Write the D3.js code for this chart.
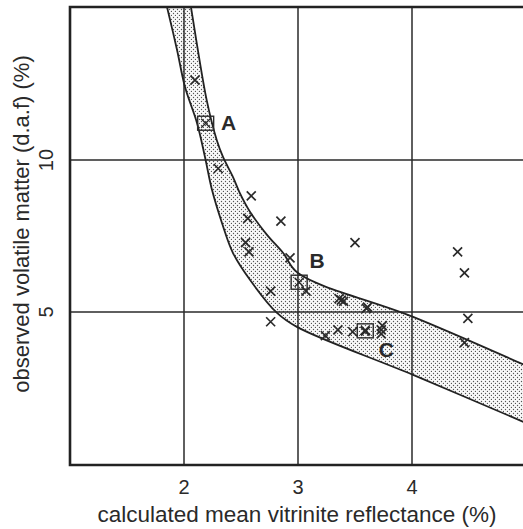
<!DOCTYPE html>
<html>
<head>
<meta charset="utf-8">
<script src="https://cdn.jsdelivr.net/npm/d3@7"></script>
<style>
  html, body { margin: 0; padding: 0; background: #fff; }
  svg { display: block; font-family: "Liberation Sans", Arial, Helvetica, sans-serif; }
</style>
</head>
<body>
<svg id="chart" width="523" height="529"></svg>
<script>
// Band of expected volatile matter vs. reflectance: upper and lower boundaries
const upperX = [2.04, 2.061, 2.199, 2.287, 2.342, 2.43, 2.49, 2.58, 2.73, 2.87, 3.0, 4.01, 5.05];
const upperY = [15.5, 15.03, 11.97, 10.66, 10.10, 9.44, 8.91, 8.29, 7.53, 6.94, 6.28, 4.84, 3.15];
const lowerX = [1.82, 1.851, 1.939, 2.009, 2.114, 2.184, 2.246, 2.333, 2.43, 2.58, 2.816, 2.99, 4.01, 5.05];
const lowerY = [15.5, 15.03, 13.62, 12.40, 11.22, 10.10, 9.01, 7.93, 6.94, 6.05, 4.97, 4.51, 2.93, 1.27];

// Measured samples (crosses)
const sampleX = [2.096, 2.30, 2.59, 2.56, 2.85, 2.54, 2.57, 2.93, 3.07, 2.76, 3.38, 3.40, 3.36,
                 2.76, 3.24, 3.35, 3.50, 4.40, 4.46, 3.60, 3.61, 3.48, 3.73, 3.74, 3.73, 4.49, 4.46];
const sampleY = [12.63, 9.72, 8.82, 8.08, 7.99, 7.28, 6.98, 6.78, 5.69, 5.69, 5.39, 5.35, 5.44,
                 4.68, 4.22, 4.41, 7.28, 6.98, 6.29, 5.12, 5.16, 4.35, 4.41, 4.55, 4.28, 4.79, 3.99];

// Highlighted samples
const keyNames = ["A", "B", "C"];
const keyX = [2.19, 3.01, 3.59];
const keyY = [11.21, 5.98, 4.38];

// Axis ticks and titles
const xTicks = [2, 3, 4];
const yTicks = [5, 10];
const xTitle = "calculated mean vitrinite reflectance (%)";
const yTitle = "observed volatile matter (d.a.f) (%)";

const svg = d3.select("#chart");
const x = d3.scaleLinear().domain([1, 5]).range([70, 526]);
const y = d3.scaleLinear().domain([0, 15]).range([464, 8]);
const pLeft = 70, pTop = 7, pBottom = 465, pRight = 523;
const ink = "#2a2a2a";

const defs = svg.append("defs");
const pat = defs.append("pattern").attr("id", "stipple")
  .attr("patternUnits", "userSpaceOnUse").attr("width", 4).attr("height", 4);
pat.append("rect").attr("width", 4).attr("height", 4).attr("fill", "#fafafa");
pat.append("circle").attr("cx", 1.5).attr("cy", 1.5).attr("r", 0.7).attr("fill", "#555");
pat.append("circle").attr("cx", 3.5).attr("cy", 3.5).attr("r", 0.7).attr("fill", "#555");
defs.append("clipPath").attr("id", "plotclip").append("rect")
  .attr("x", pLeft).attr("y", pTop).attr("width", pRight - pLeft + 10).attr("height", pBottom - pTop);

const plot = svg.append("g").attr("clip-path", "url(#plotclip)");

// Shaded band
const line = d3.line().x(d => x(d[0])).y(d => y(d[1])).curve(d3.curveCatmullRom.alpha(0.5));
const upper = upperX.map((v, i) => [v, upperY[i]]);
const lower = lowerX.map((v, i) => [v, lowerY[i]]);
const bandPath = line(upper) + "L" + line(lower.slice().reverse()).slice(1) + "Z";
plot.append("path").attr("d", bandPath).attr("fill", "url(#stipple)").attr("stroke", "none");

// Grid lines
plot.selectAll(".vgrid").data(xTicks).join("line")
  .attr("x1", d => x(d)).attr("x2", d => x(d)).attr("y1", pTop).attr("y2", pBottom)
  .attr("stroke", ink).attr("stroke-width", 1.5);
plot.selectAll(".hgrid").data(yTicks).join("line")
  .attr("x1", pLeft).attr("x2", pRight + 5).attr("y1", d => y(d)).attr("y2", d => y(d))
  .attr("stroke", ink).attr("stroke-width", 1.5);

// Band outlines
plot.append("path").attr("d", line(upper)).attr("fill", "none").attr("stroke", "#222").attr("stroke-width", 1.8);
plot.append("path").attr("d", line(lower)).attr("fill", "none").attr("stroke", "#222").attr("stroke-width", 1.8);

// Crosses
const s = 4.5;
const cross = (g, cx, cy, w) => {
  g.append("path")
    .attr("d", `M${cx - s},${cy - s}L${cx + s},${cy + s}M${cx - s},${cy + s}L${cx + s},${cy - s}`)
    .attr("stroke", ink).attr("stroke-width", w).attr("fill", "none");
};
sampleX.forEach((v, i) => cross(plot, x(v), y(sampleY[i]), 1.7));

// Boxed key samples with letters
keyX.forEach((v, i) => {
  const cx = x(v), cy = y(keyY[i]);
  plot.append("rect").attr("x", cx - 8).attr("y", cy - 7).attr("width", 16).attr("height", 14)
    .attr("fill", "none").attr("stroke", ink).attr("stroke-width", 1.4);
  cross(plot, cx, cy, i === 2 ? 2.6 : 1.4);
});
const labelOffsets = [[23, 7], [18, -14], [21, 26]];
svg.selectAll(".keylab").data(keyNames).join("text")
  .attr("x", (d, i) => x(keyX[i]) + labelOffsets[i][0])
  .attr("y", (d, i) => y(keyY[i]) + labelOffsets[i][1])
  .attr("text-anchor", "middle").attr("font-weight", "bold").attr("font-size", 21)
  .attr("fill", ink).text(d => d);

// Frame
svg.append("path")
  .attr("d", `M${pRight + 5},${pTop}H${pLeft}V${pBottom}H${pRight + 5}`)
  .attr("fill", "none").attr("stroke", "#222").attr("stroke-width", 2.6);

// Tick labels
svg.selectAll(".xt").data(xTicks).join("text")
  .attr("x", d => x(d)).attr("y", 494).attr("text-anchor", "middle")
  .attr("font-size", 20).attr("fill", ink).text(d => d);
svg.selectAll(".yt").data(yTicks).join("text")
  .attr("transform", d => `translate(53,${y(d)}) rotate(-90)`)
  .attr("text-anchor", "middle").attr("font-size", 20).attr("fill", ink).text(d => d);

// Axis titles
svg.append("text").attr("x", 297).attr("y", 522).attr("text-anchor", "middle")
  .attr("font-size", 22.5).attr("fill", ink).text(xTitle);
svg.append("text").attr("transform", "translate(29,224) rotate(-90)").attr("text-anchor", "middle")
  .attr("font-size", 22).attr("fill", ink).text(yTitle);
</script>
</body>
</html>
